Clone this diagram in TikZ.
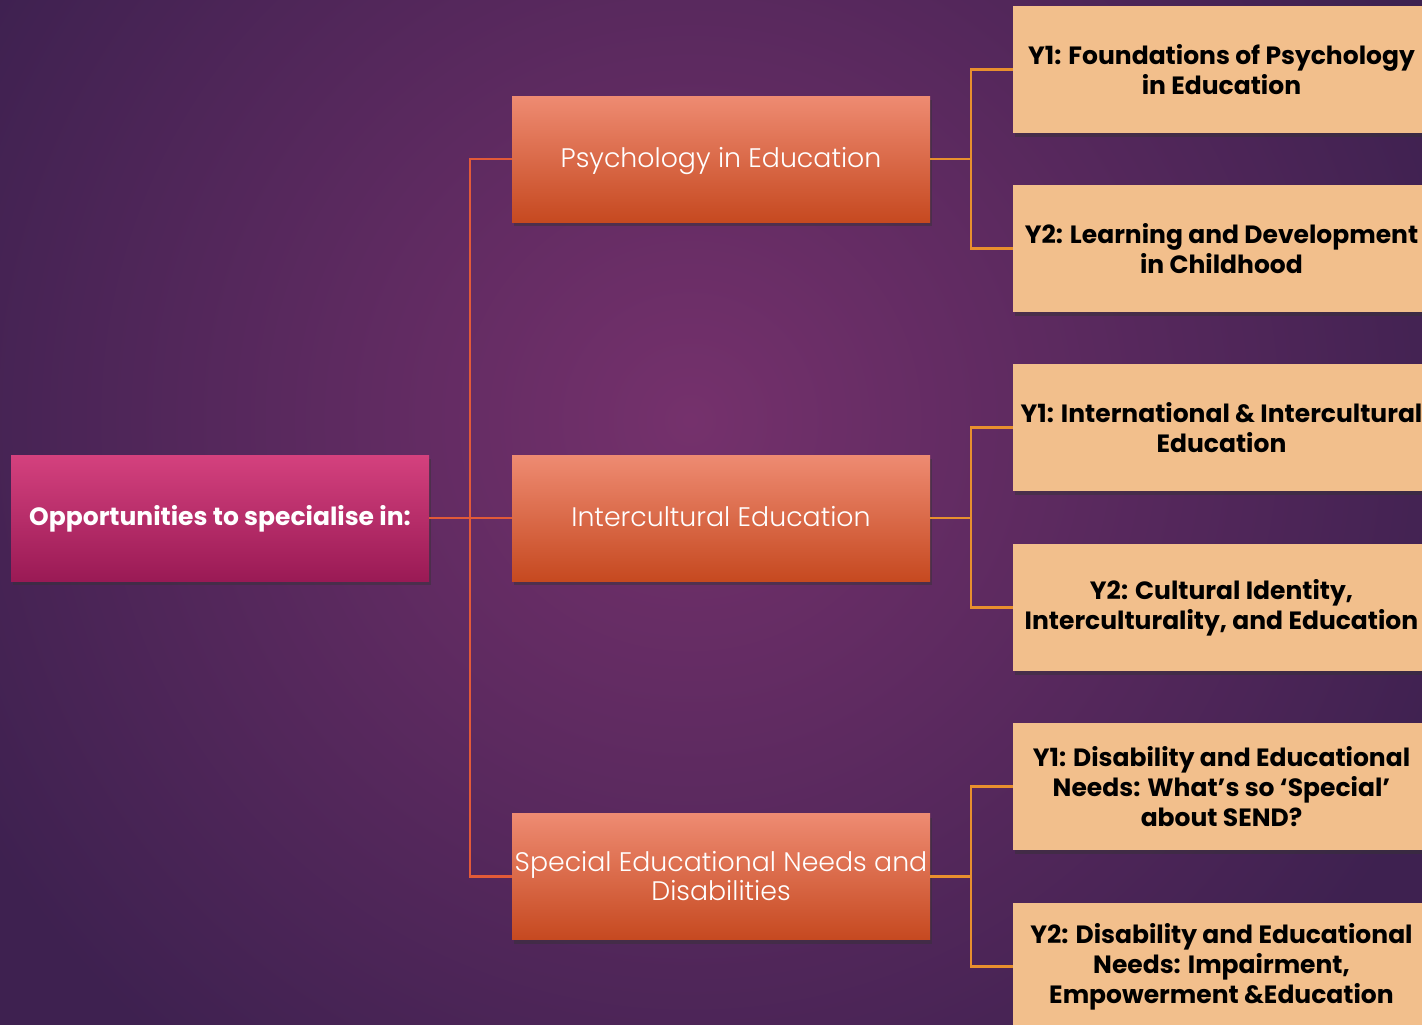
\documentclass[tikz,border=0pt]{standalone}
\usepackage{fontspec}
\setmainfont{Poppins}
\newfontfamily\lightfont{Poppins Light}
\usetikzlibrary{shadows}
\definecolor{bgin}{HTML}{75316C}
\definecolor{bgout}{HTML}{3E2150}
\definecolor{rootT}{HTML}{D4417E}
\definecolor{rootB}{HTML}{9A1A55}
\definecolor{midT}{HTML}{EE8B72}
\definecolor{midB}{HTML}{C64920}
\definecolor{leaf}{HTML}{F2BF8C}
\definecolor{lineA}{HTML}{E25A38}
\definecolor{lineB}{HTML}{E8902E}
\begin{document}
\begin{tikzpicture}[x=1pt,y=-1pt,
  shad/.style={drop shadow={shadow xshift=2pt,shadow yshift=-4pt,opacity=0.45,fill=black!80}},
  rootbox/.style={shad,top color=rootT,bottom color=rootB,minimum width=418pt,minimum height=126pt,inner sep=0pt,text=white,text height=14pt,text depth=0pt,font=\bfseries\fontsize{25}{30}\selectfont},
  midbox/.style={shad,top color=midT,bottom color=midB,minimum width=418pt,minimum height=126pt,inner sep=0pt,text=white,align=center,font=\lightfont\fontsize{26.8}{29}\selectfont},
  midone/.style={midbox,text height=17pt,text depth=0pt},
  leafbox/.style={shad,fill=leaf,minimum width=417pt,minimum height=127pt,inner sep=0pt,text=black,align=center,font=\bfseries\fontsize{25}{30}\selectfont},
  lvlA/.style={draw=lineA,line width=2.2pt},
  lvlB/.style={draw=lineB,line width=2.2pt}]
\clip (0,0) rectangle (1422,1025);
\fill[bgout] (0,0) rectangle (1422,1025);
\shade[inner color=bgin,outer color=bgout] (690,420) circle (820);
\useasboundingbox (0,0) rectangle (1422,1025);

\node[rootbox] (root) at (220,518) {Opportunities to specialise in:};
\node[midone] (psy) at (721,159) {Psychology in Education};
\node[midone] (inter) at (721,518) {Intercultural Education};
\node[midbox] (sen) at (721,876.5) {Special Educational Needs and\\Disabilities};

\node[leafbox] (p1) at (1221.5,69.5) {Y1: Foundations of Psychology\\in Education};
\node[leafbox] (p2) at (1221.5,248.5) {Y2: Learning and Development\\in Childhood};
\node[leafbox] (i1) at (1221.5,427.5) {Y1: International \& Intercultural\\Education};
\node[leafbox] (i2) at (1221.5,607.5) {Y2: Cultural Identity,\\Interculturality, and Education};
\node[leafbox] (s1) at (1221.5,786.5) {Y1: Disability and Educational\\Needs: What’s so ‘Special’\\about SEND?};
\node[leafbox] (s2) at (1221.5,966.5) {Y2: Disability and Educational\\Needs: Impairment,\\Empowerment \&Education};

\draw[lvlA] (root.east) -- (inter.west);
\draw[lvlA] (root.east) -- ++(41,0) |- (psy.west);
\draw[lvlA] (root.east) -- ++(41,0) |- (sen.west);

\draw[lvlB] (psy.east) -- ++(41,0) |- (p1.west);
\draw[lvlB] (psy.east) -- ++(41,0) |- (p2.west);
\draw[lvlB] (inter.east) -- ++(41,0) |- (i1.west);
\draw[lvlB] (inter.east) -- ++(41,0) |- (i2.west);
\draw[lvlB] (sen.east) -- ++(41,0) |- (s1.west);
\draw[lvlB] (sen.east) -- ++(41,0) |- (s2.west);
\end{tikzpicture}
\end{document}
